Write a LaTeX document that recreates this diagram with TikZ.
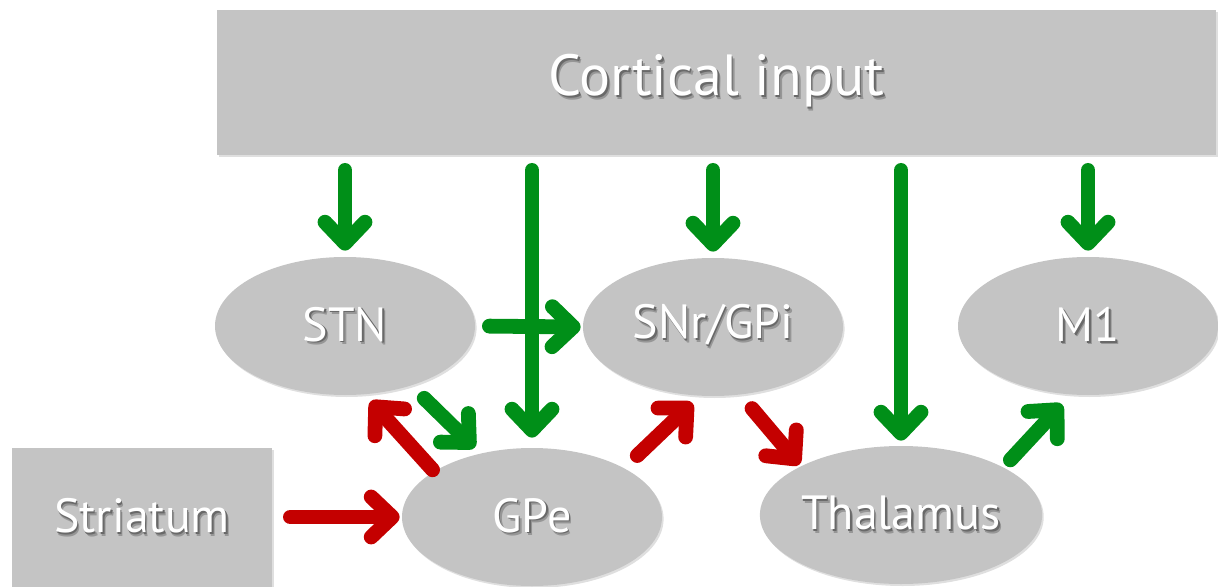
\documentclass[tikz,border=0pt]{standalone}
\usepackage{fontspec}
\setmainfont{PT Sans}
\usetikzlibrary{arrows.meta,shadows,shapes.geometric}
\definecolor{boxgray}{RGB}{196,196,196}
\definecolor{arrgreen}{RGB}{0,143,24}
\definecolor{arrred}{RGB}{196,0,0}
\definecolor{shadA}{RGB}{105,105,105}
\definecolor{shadB}{RGB}{150,150,150}
\newcommand\shtext[1]{\makebox[0pt][l]{\hspace{1.4pt}\raisebox{-1.8pt}{\textcolor{shadB}{#1}}}\makebox[0pt][l]{\hspace{0.7pt}\raisebox{-0.9pt}{\textcolor{shadA}{#1}}}#1}
\tikzset{
  region/.style={fill=boxgray, draw=none, inner sep=0pt, text=white, font=\fontsize{24}{28}\selectfont,
    drop shadow={shadow xshift=0.8pt, shadow yshift=-1pt, opacity=0.25}},
  boxnode/.style={region, rectangle},
  nucleus/.style={region, ellipse, minimum width=130pt, minimum height=69pt},
  link/.style={line width=7.4pt, line cap=round, -{Straight Barb[length=10.5pt,width=20pt,round]}},
  glink/.style={link, draw=arrgreen},
  rlink/.style={link, draw=arrred},
}
\begin{document}
\begin{tikzpicture}[x=0.5pt, y=-0.5pt]
\useasboundingbox (0,0) rectangle (1218,587);
% boxes
\node[boxnode, minimum width=499.5pt, minimum height=72.5pt, font=\fontsize{29}{34}\selectfont] (cort) at (716.5,82.5) {\shtext{Cortical input}};
\node[boxnode, minimum width=130pt, minimum height=69.5pt] (stri) at (142,517.5) {\shtext{Striatum}};
% nuclei
\node[nucleus] (stn) at (345,326) {\shtext{STN}};
\node[nucleus] (snr) at (713,327) {\shtext{SNr/GPi}};
\node[nucleus] (m1) at (1088,326) {\shtext{M1}};
\node[nucleus] (gpe) at (532,517) {\shtext{GPe}};
\node[nucleus] (thal) at (901,515) {\shtext{Thalamus}};
% cortical projections
\draw[glink, shorten <=7.5pt, shorten >=3pt] (cort.south -| stn.north) -- (stn.north);
\draw[glink, shorten <=7.5pt, shorten >=5pt] (cort.south -| gpe.north) -- (gpe.north);
\draw[glink, shorten <=7.5pt, shorten >=3pt] (cort.south -| snr.north) -- (snr.north);
\draw[glink, shorten <=7.5pt, shorten >=2.5pt] (cort.south -| thal.north) -- (thal.north);
\draw[glink, shorten <=7.5pt, shorten >=3pt] (cort.south -| m1.north) -- (m1.north);
% internal connections
\draw[glink, shorten <=7pt, shorten >=1pt] (stn.east) -- (snr.west);
\draw[glink, shorten <=9pt, shorten >=4pt] (stn.-42.7) -- (gpe.129.8);
\draw[rlink, shorten <=1pt, shorten >=4.5pt] (gpe.155) -- (stn.-74);
\draw[rlink, shorten <=9pt, shorten >=1pt] (stri.east |- gpe.west) -- (gpe.west);
\draw[rlink, shorten <=9pt, shorten >=5pt] (gpe.28.6) -- (snr.-101.6);
\draw[rlink, shorten <=9pt, shorten >=1pt] (snr.-68.2) -- (thal.154.6);
\draw[glink, shorten <=5pt, shorten >=6.5pt] (thal.25.9) -- (m1.-104.5);
\end{tikzpicture}
\end{document}
